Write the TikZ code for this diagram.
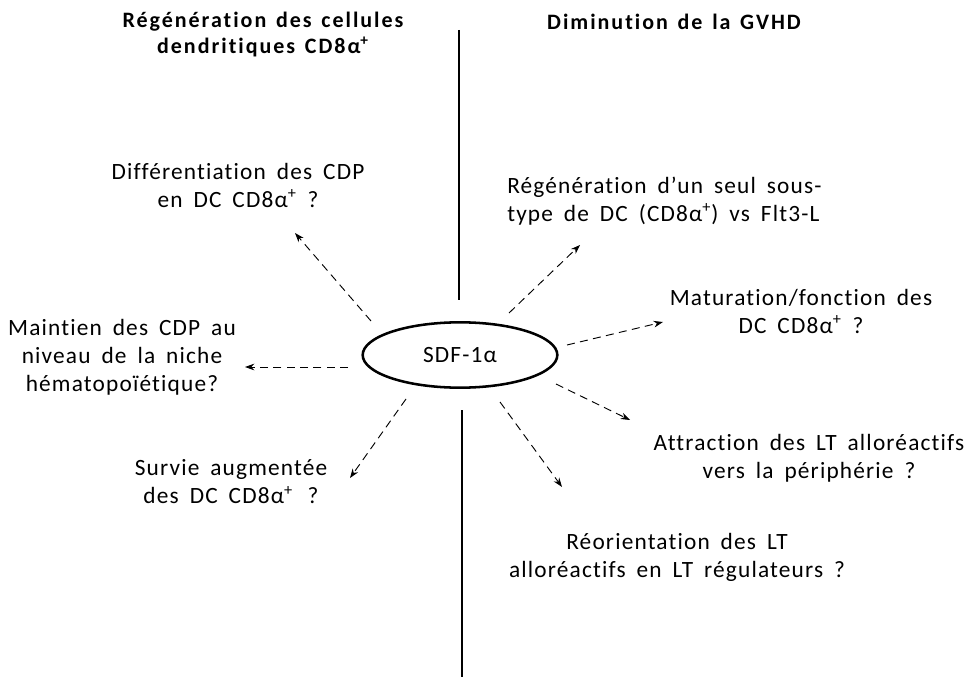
\documentclass[tikz,border=0pt]{standalone}
\usepackage{fontspec}
\setmainfont{Carlito}[Ligatures=NoCommon]
\newfontfamily\txtfont{Carlito}[Ligatures=NoCommon, LetterSpace=5, WordSpace=1.7]
\newfontfamily\titrefont{Carlito}[Ligatures=NoCommon, LetterSpace=9, WordSpace=1.4]
\usetikzlibrary{arrows.meta,shapes.geometric}

\begin{document}
\begin{tikzpicture}[
    x=0.75pt, y=-0.75pt,
    lbl/.style={align=center, inner sep=0pt,
                font=\txtfont\fontsize{17.5}{21}\selectfont},
    titre/.style={align=center, inner sep=0pt,
                font=\titrefont\fontsize{16.5}{19.5}\selectfont\bfseries},
    fleche/.style={-{Stealth[length=7pt,width=5pt]}, dash pattern=on 6pt off 4pt, line width=0.7pt}
  ]
  \useasboundingbox (0,0) rectangle (966,677);
  % Titres
  \node[titre] (tgauche) at (263,35) {Régénération des cellules\\dendritiques CD8α\textsuperscript{+}};
  \node[titre] (tdroite) at (674,22) {Diminution de la GVHD};
  % Ligne de separation
  \coordinate (lhaut1) at (459,30);
  \coordinate (lhaut2) at (459,300);
  \coordinate (lbas1) at (462,410);
  \coordinate (lbas2) at (462,677);
  \draw[line width=1pt] (lhaut1) -- (lhaut2);
  \draw[line width=1pt] (lbas1) -- (lbas2);
  % Centre
  \node[draw, ellipse, line width=1.9pt, minimum width=146pt, minimum height=49pt,
        lbl, inner sep=2pt] (sdf) at (460,355) {SDF-1α};
  % Hypotheses
  \node[lbl] (diff) at (238,185) {Différentiation des CDP\\en DC CD8α\textsuperscript{+} ?};
  \node[lbl] (maint) at (122,357) {Maintien des CDP au\\niveau de la niche\\hématopoïétique?};
  \node[lbl] (surv) at (231,482) {Survie augmentée\\des DC CD8α\textsuperscript{+}\,\ ?};
  \node[lbl, align=left, anchor=west] (regen) at (507,201) {Régénération d’un seul sous-\\type de DC (CD8α\textsuperscript{+}) vs Flt3-L};
  \node[lbl] (matur) at (801,311) {Maturation/fonction des\\DC CD8α\textsuperscript{+} ?};
  \node[lbl] (attr) at (809,458) {Attraction des LT alloréactifs\\vers la périphérie ?};
  \node[lbl] (reor) at (677,557) {Réorientation des LT\\alloréactifs en LT régulateurs ?};
  % Fleches
  \coordinate (d1) at (371,321); \coordinate (a1) at (295,233);
  \coordinate (d2) at (348,367); \coordinate (a2) at (245,367);
  \coordinate (d3) at (406,399); \coordinate (a3) at (350,478);
  \coordinate (d4) at (509,313); \coordinate (a4) at (580,245);
  \coordinate (d5) at (567,345); \coordinate (a5) at (663,322);
  \coordinate (d6) at (556,384); \coordinate (a6) at (630,420);
  \coordinate (d7) at (500,402); \coordinate (a7) at (562,487);
  \foreach \i in {1,...,7}
    \draw[fleche] (d\i) -- (a\i);
\end{tikzpicture}
\end{document}
